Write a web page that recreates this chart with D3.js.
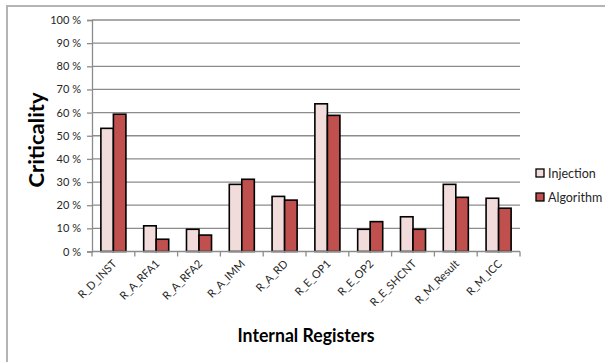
<!DOCTYPE html>
<html>
<head>
<meta charset="utf-8">
<script src="https://cdn.jsdelivr.net/npm/d3@7"></script>
<style>
  html, body { margin: 0; padding: 0; background: #fff; }
  svg { display: block; }
</style>
</head>
<body>
<svg id="chart" width="605" height="362"></svg>
<script>
// Register names along the x axis
const categories = ["R_D_INST", "R_A_RFA1", "R_A_RFA2", "R_A_IMM", "R_A_RD",
                    "R_E_OP1", "R_E_OP2", "R_E_SHCNT", "R_M_Result", "R_M_ICC"];
// Criticality (%) per register
const injection = [53.2, 11.1, 9.6, 29.0, 23.8, 63.8, 9.6, 15.0, 29.0, 23.0];
const algorithm = [59.3, 5.3, 7.1, 31.2, 22.2, 58.8, 12.9, 9.6, 23.4, 18.7];
const seriesNames = ["Injection", "Algorithm"];
const yTicks = [0, 10, 20, 30, 40, 50, 60, 70, 80, 90, 100];

const colors = { Injection: "#f2dcdb", Algorithm: "#c0504d" };
const font = "Lato, 'Open Sans', 'DejaVu Sans', sans-serif";

const svg = d3.select("#chart");
const plot = { left: 92, right: 520, top: 20, bottom: 251.5 };

// Outer chart frame
svg.append("rect")
  .attr("x", 7).attr("y", 6).attr("width", 610).attr("height", 370)
  .attr("fill", "none").attr("stroke", "#b4b4b4").attr("stroke-width", 2);

const x = d3.scaleBand().domain(categories).range([plot.left, plot.right])
  .paddingInner(0.415).paddingOuter(0.2075);
const xs = d3.scaleBand().domain(seriesNames).range([0, x.bandwidth()]);
const y = d3.scaleLinear().domain([0, 100]).range([plot.bottom, plot.top]);

// Horizontal gridlines
svg.append("g").selectAll("line").data(yTicks.filter(d => d > 0)).join("line")
  .attr("x1", plot.left).attr("x2", plot.right)
  .attr("y1", d => y(d)).attr("y2", d => y(d))
  .attr("stroke", "#8c8c8c").attr("stroke-width", 1.3);

// Bars
const rows = categories.map((c, i) => ({ c, Injection: injection[i], Algorithm: algorithm[i] }));
const groups = svg.append("g").selectAll("g").data(rows).join("g")
  .attr("transform", d => `translate(${x(d.c)},0)`);
groups.selectAll("rect").data(d => seriesNames.map(s => ({ s, v: d[s] }))).join("rect")
  .attr("x", d => xs(d.s))
  .attr("width", xs.bandwidth())
  .attr("y", d => y(d.v))
  .attr("height", d => y(0) - y(d.v))
  .attr("fill", d => colors[d.s])
  .attr("stroke", "#000").attr("stroke-width", 1.6);

// Y axis
const yAxis = svg.append("g").attr("transform", `translate(${plot.left},0)`)
  .call(d3.axisLeft(y).tickValues(yTicks).tickSize(5).tickPadding(6)
    .tickFormat(d => d + " %"));
yAxis.select(".domain").attr("stroke", "#8c8c8c").attr("stroke-width", 1.3);
yAxis.selectAll(".tick line").attr("stroke", "#8c8c8c").attr("stroke-width", 1.3);
yAxis.selectAll("text").attr("font-family", font).attr("font-size", 11).attr("fill", "#262626");

// X axis with ticks at category boundaries
const boundaries = d3.range(categories.length + 1).map(i =>
  plot.left + i * (plot.right - plot.left) / categories.length);
const xg = svg.append("g");
xg.append("line").attr("x1", plot.left).attr("x2", plot.right)
  .attr("y1", y(0)).attr("y2", y(0)).attr("stroke", "#8c8c8c").attr("stroke-width", 1.3);
xg.selectAll("line.tick").data(boundaries).join("line").attr("class", "tick")
  .attr("x1", d => d).attr("x2", d => d)
  .attr("y1", y(0)).attr("y2", y(0) + 5)
  .attr("stroke", "#8c8c8c").attr("stroke-width", 1.3);
xg.selectAll("text").data(categories).join("text")
  .attr("transform", d => `translate(${x(d) + x.bandwidth() / 2 + 4},${y(0) + 13}) rotate(-45)`)
  .attr("text-anchor", "end")
  .attr("font-family", font).attr("font-size", 11).attr("fill", "#262626")
  .text(d => d);

// Axis titles
svg.append("text")
  .attr("transform", "translate(44,140) rotate(-90)")
  .attr("text-anchor", "middle")
  .attr("font-family", font).attr("font-weight", "bold").attr("font-size", 21)
  .attr("textLength", 95).attr("lengthAdjust", "spacingAndGlyphs")
  .attr("fill", "#000").text("Criticality");
svg.append("text")
  .attr("x", 306).attr("y", 342)
  .attr("text-anchor", "middle")
  .attr("font-family", font).attr("font-weight", "bold").attr("font-size", 19)
  .attr("textLength", 137).attr("lengthAdjust", "spacingAndGlyphs")
  .attr("fill", "#000").text("Internal Registers");

// Legend
const legend = svg.append("g").selectAll("g").data(seriesNames).join("g")
  .attr("transform", (d, i) => `translate(540,${173 + i * 24})`);
legend.append("rect")
  .attr("x", -4).attr("y", -4).attr("width", 8).attr("height", 8)
  .attr("fill", d => colors[d]).attr("stroke", "#000").attr("stroke-width", 1.3);
legend.append("text")
  .attr("x", 8).attr("y", 4.5)
  .attr("font-family", font).attr("font-size", 12.5).attr("fill", "#262626")
  .text(d => d);
</script>
</body>
</html>
